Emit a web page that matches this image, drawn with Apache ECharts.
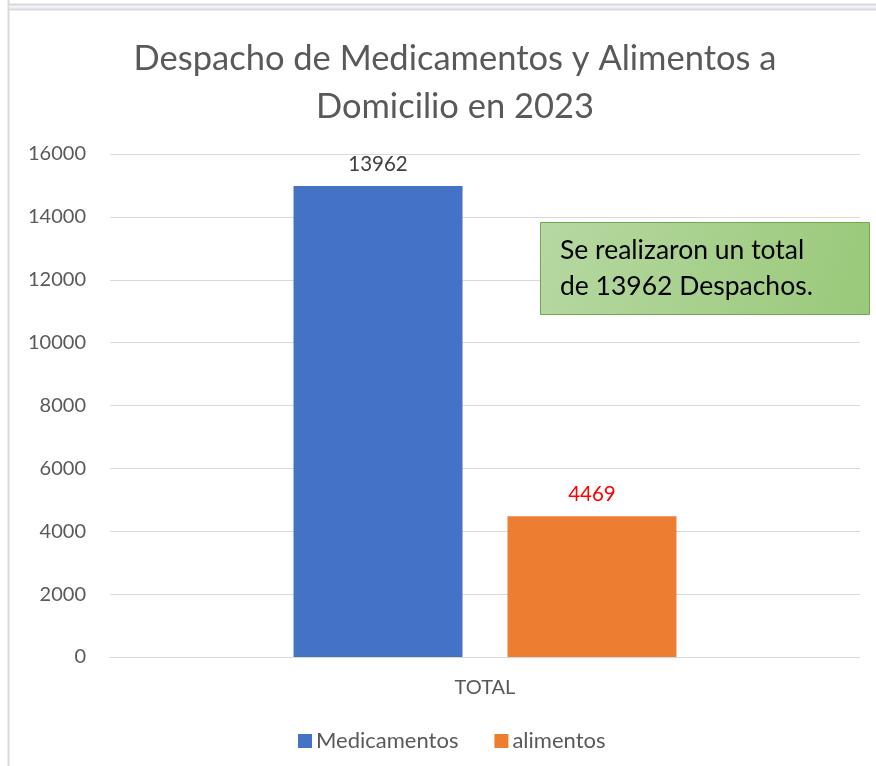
<!DOCTYPE html>
<html>
<head>
<meta charset="utf-8">
<script src="https://cdn.jsdelivr.net/npm/echarts@6/dist/echarts.min.js"></script>
<style>
html,body{margin:0;padding:0;background:#fff;}
#c{width:876px;height:766px;}
</style>
</head>
<body>
<div id="c"></div>
<script>
const categories = ['TOTAL'];
const seriesNames = ['Medicamentos', 'alimentos'];
const medicamentos = [14980];
const alimentos = [4480];
const medicamentosLabel = ['13962'];
const alimentosLabel = ['4469'];
const yTicks = [0, 2000, 4000, 6000, 8000, 10000, 12000, 14000, 16000];
const titleText = 'Despacho de Medicamentos y Alimentos a\nDomicilio en 2023';
const noteText = 'Se realizaron un total\nde 13962 Despachos.';

const font = 'Lato, "Open Sans", sans-serif';
const chart = echarts.init(document.getElementById('c'));
chart.setOption({
  animation: false,
  backgroundColor: '#fff',
  title: {
    text: titleText,
    left: 450, top: 30, textAlign: 'center',
    textStyle: { fontFamily: font, fontSize: 34.5, fontWeight: 'normal', color: '#595959', lineHeight: 48 }
  },
  legend: {
    data: seriesNames,
    bottom: 9, left: 293,
    itemWidth: 14, itemHeight: 14, itemGap: 36,
    icon: 'rect',
    textStyle: { fontFamily: font, fontSize: 22, color: '#595959', padding: [0, 0, 0, -1] }
  },
  grid: { left: 110, right: 16, top: 154, bottom: 109 },
  xAxis: {
    type: 'category', data: categories,
    axisLine: { lineStyle: { color: '#d9d9d9', width: 1 } },
    axisTick: { show: false },
    axisLabel: { fontFamily: font, fontSize: 20, color: '#595959', margin: 21 }
  },
  yAxis: {
    type: 'value', min: yTicks[0], max: yTicks[yTicks.length - 1], interval: 2000,
    axisLine: { show: false }, axisTick: { show: false },
    splitLine: { lineStyle: { color: '#d9d9d9', width: 1 } },
    axisLabel: { fontFamily: font, fontSize: 20, color: '#595959', margin: 24, formatter: v => String(v) }
  },
  series: [
    {
      name: seriesNames[0], type: 'bar', data: medicamentos,
      barWidth: 169, barGap: '26.6%',
      itemStyle: { color: '#4472C4' },
      label: { show: true, position: 'top', distance: 11, fontFamily: font, fontSize: 20.5, color: '#404040',
        formatter: p => medicamentosLabel[p.dataIndex] }
    },
    {
      name: seriesNames[1], type: 'bar', data: alimentos,
      barWidth: 169,
      itemStyle: { color: '#ED7D31' },
      label: { show: true, position: 'top', distance: 11, fontFamily: font, fontSize: 20.5, color: '#FF0000',
        formatter: p => alimentosLabel[p.dataIndex] }
    }
  ],
  graphic: [
    { type: 'line', z: 100, shape: { x1: 8.5, y1: 0, x2: 8.5, y2: 766 }, style: { stroke: '#d9d9d9', lineWidth: 2 } },
    { type: 'rect', z: 100, shape: { x: 9, y: 4, width: 867, height: 5 }, style: { fill: '#eef3fb' } },
    { type: 'line', z: 100, shape: { x1: 8, y1: 4.5, x2: 876, y2: 4.5 }, style: { stroke: '#d9d9d9', lineWidth: 2 } },
    { type: 'line', z: 100, shape: { x1: 8, y1: 9.5, x2: 876, y2: 9.5 }, style: { stroke: '#d9d9d9', lineWidth: 2 } },
    {
      type: 'rect', z: 100, shape: { x: 540.5, y: 222.5, width: 329, height: 92 },
      style: {
        fill: new echarts.graphic.LinearGradient(0, 0, 1, 1, [
          { offset: 0, color: '#b6d8a2' }, { offset: 1, color: '#99c979' }
        ]),
        stroke: '#72a852', lineWidth: 1
      }
    },
    {
      type: 'text', z: 101, left: 560, top: 232,
      style: { text: noteText, fontFamily: font, fontSize: 26.5, lineHeight: 36, fill: '#000' }
    }
  ]
});
</script>
</body>
</html>
